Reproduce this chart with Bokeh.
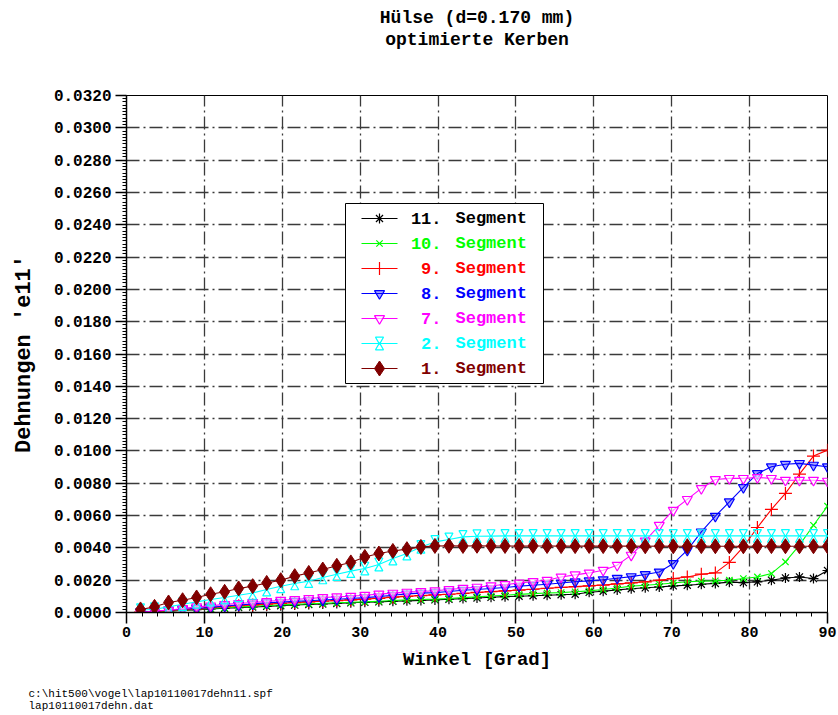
from bokeh.plotting import figure
from bokeh.models import Range1d, FixedTicker, NumeralTickFormatter, Title, ColumnDataSource
from bokeh.transform import dodge
from bokeh.core.properties import value
from bokeh.embed import file_html
from bokeh.resources import INLINE

# ---------------- data ----------------
winkel = [1.8, 3.6, 5.4, 7.2, 9.0, 10.8, 12.6, 14.4, 16.2, 18.0,
          19.8, 21.6, 23.4, 25.2, 27.0, 28.8, 30.6, 32.4, 34.2, 36.0,
          37.8, 39.6, 41.4, 43.2, 45.0, 46.8, 48.6, 50.4, 52.2, 54.0,
          55.8, 57.6, 59.4, 61.2, 63.0, 64.8, 66.6, 68.4, 70.2, 72.0,
          73.8, 75.6, 77.4, 79.2, 81.0, 82.8, 84.6, 86.4, 88.2, 90.0]

seg11 = [0.00000, 0.00003, 0.00008, 0.00013, 0.00018, 0.00022, 0.00026, 0.00030, 0.00034, 0.00038,
         0.00042, 0.00046, 0.00050, 0.00053, 0.00056, 0.00060, 0.00063, 0.00066, 0.00070, 0.00072,
         0.00075, 0.00078, 0.00082, 0.00086, 0.00090, 0.00094, 0.00098, 0.00101, 0.00104, 0.00107,
         0.00110, 0.00113, 0.00125, 0.00132, 0.00140, 0.00147, 0.00153, 0.00158, 0.00165, 0.00169,
         0.00175, 0.00180, 0.00188, 0.00185, 0.00190, 0.00200, 0.00214, 0.00220, 0.00210, 0.00260]

seg10 = [0.00003, 0.00004, 0.00010, 0.00015, 0.00020, 0.00025, 0.00029, 0.00034, 0.00038, 0.00043,
         0.00047, 0.00050, 0.00054, 0.00057, 0.00060, 0.00063, 0.00066, 0.00070, 0.00074, 0.00078,
         0.00080, 0.00083, 0.00087, 0.00092, 0.00097, 0.00102, 0.00107, 0.00112, 0.00117, 0.00121,
         0.00123, 0.00128, 0.00134, 0.00142, 0.00152, 0.00163, 0.00169, 0.00175, 0.00183, 0.00190,
         0.00194, 0.00196, 0.00200, 0.00210, 0.00220, 0.00241, 0.00313, 0.00417, 0.00540, 0.00658]

seg9 = [0.00002, 0.00006, 0.00012, 0.00018, 0.00023, 0.00030, 0.00036, 0.00042, 0.00047, 0.00052,
        0.00057, 0.00061, 0.00066, 0.00070, 0.00074, 0.00078, 0.00083, 0.00088, 0.00095, 0.00100,
        0.00105, 0.00109, 0.00113, 0.00118, 0.00124, 0.00129, 0.00134, 0.00139, 0.00144, 0.00150,
        0.00155, 0.00160, 0.00165, 0.00170, 0.00177, 0.00183, 0.00190, 0.00200, 0.00210, 0.00220,
        0.00237, 0.00245, 0.00310, 0.00406, 0.00526, 0.00638, 0.00737, 0.00856, 0.00968, 0.01005]

seg8 = [0.00005, 0.00008, 0.00015, 0.00020, 0.00025, 0.00032, 0.00040, 0.00046, 0.00053, 0.00060,
        0.00064, 0.00069, 0.00073, 0.00077, 0.00082, 0.00087, 0.00092, 0.00098, 0.00107, 0.00115,
        0.00120, 0.00123, 0.00130, 0.00138, 0.00142, 0.00149, 0.00155, 0.00163, 0.00169, 0.00175,
        0.00183, 0.00190, 0.00196, 0.00203, 0.00212, 0.00222, 0.00235, 0.00251, 0.00303, 0.00386,
        0.00499, 0.00596, 0.00685, 0.00774, 0.00860, 0.00902, 0.00918, 0.00923, 0.00912, 0.00902]

seg7 = [0.00000, 0.00010, 0.00014, 0.00025, 0.00035, 0.00041, 0.00050, 0.00056, 0.00062, 0.00068,
        0.00076, 0.00080, 0.00087, 0.00093, 0.00097, 0.00101, 0.00107, 0.00114, 0.00120, 0.00126,
        0.00130, 0.00135, 0.00142, 0.00150, 0.00157, 0.00166, 0.00173, 0.00182, 0.00192, 0.00200,
        0.00220, 0.00233, 0.00245, 0.00262, 0.00293, 0.00355, 0.00443, 0.00540, 0.00633, 0.00700,
        0.00768, 0.00823, 0.00830, 0.00830, 0.00836, 0.00830, 0.00819, 0.00819, 0.00819, 0.00813]

seg2 = [0.00014, 0.00020, 0.00035, 0.00051, 0.00066, 0.00080, 0.00093, 0.00107, 0.00121, 0.00142,
        0.00162, 0.00180, 0.00194, 0.00217, 0.00237, 0.00256, 0.00272, 0.00297, 0.00334, 0.00365,
        0.00406, 0.00437, 0.00452, 0.00468, 0.00472, 0.00473, 0.00474, 0.00474, 0.00474, 0.00474,
        0.00474, 0.00474, 0.00474, 0.00474, 0.00474, 0.00474, 0.00474, 0.00474, 0.00474, 0.00474,
        0.00473, 0.00474, 0.00474, 0.00474, 0.00474, 0.00474, 0.00474, 0.00474, 0.00474, 0.00474]

seg1 = [0.00019, 0.00035, 0.00062, 0.00076, 0.00093, 0.00113, 0.00128, 0.00149, 0.00163, 0.00183,
        0.00200, 0.00225, 0.00245, 0.00266, 0.00289, 0.00310, 0.00344, 0.00365, 0.00381, 0.00392,
        0.00406, 0.00412, 0.00413, 0.00412, 0.00413, 0.00412, 0.00412, 0.00411, 0.00412, 0.00412,
        0.00411, 0.00411, 0.00412, 0.00411, 0.00411, 0.00411, 0.00410, 0.00411, 0.00410, 0.00410,
        0.00411, 0.00410, 0.00410, 0.00410, 0.00410, 0.00411, 0.00410, 0.00410, 0.00410, 0.00410]

seg_numbers = ["11.", "10.", "9.", "8.", "7.", "2.", "1."]
seg_values = [seg11, seg10, seg9, seg8, seg7, seg2, seg1]
seg_colors = ["#000000", "#00ff00", "#ff0000", "#0000ff", "#ff00ff", "#00ffff", "#800000"]
seg_markers = ["asterisk", "x", "cross", "tri_filled", "tri_open", "hourglass", "diamond"]

x_major = [0, 10, 20, 30, 40, 50, 60, 70, 80, 90]
y_major = [0.000, 0.002, 0.004, 0.006, 0.008, 0.010, 0.012, 0.014, 0.016,
           0.018, 0.020, 0.022, 0.024, 0.026, 0.028, 0.030, 0.032]

title_lines = ["Hülse (d=0.170 mm)", "optimierte Kerben"]
x_label = "Winkel [Grad]"
y_label = "Dehnungen 'e11'"
footer_lines = ["c:\\hit500\\vogel\\lap10110017dehn11.spf", "lap10110017dehn.dat"]

# ---------------- layout ----------------
W, H = 838, 715
F_LEFT, F_RIGHT, F_TOP, F_BOTTOM = 126, 827, 95, 612
X_MAX, Y_MAX = 90.0, 0.032
PXX = (F_RIGHT - F_LEFT) / X_MAX
PXY = (F_BOTTOM - F_TOP) / Y_MAX


def xd(px):
    return (px - F_LEFT) / PXX


def yd(py):
    return (F_BOTTOM - py) / PXY


MONO = "Liberation Mono"

p = figure(width=W, height=H, output_backend="svg", toolbar_location=None, title=None,
           x_range=Range1d(0, X_MAX), y_range=Range1d(0, Y_MAX),
           min_border_left=F_LEFT, min_border_right=W - F_RIGHT,
           min_border_top=F_TOP, min_border_bottom=H - F_BOTTOM)
p.background_fill_color = "white"
p.border_fill_color = "white"
p.outline_line_color = "black"
p.outline_line_width = 1

# title: spacer + two single-line titles stacked above the frame (nearest first)
spacer_top = Title(text=" ", text_font=MONO, text_font_size="18px", standoff=24)
t2 = Title(text=title_lines[1], align="center", text_font=MONO, text_font_style="bold",
           text_font_size="18px", text_color="black", standoff=0)
t1 = Title(text=title_lines[0], align="center", text_font=MONO, text_font_style="bold",
           text_font_size="18px", text_color="black", standoff=0)
p.add_layout(spacer_top, "above")
p.add_layout(t2, "above")
p.add_layout(t1, "above")

# footer: spacer + two-line file note below the x axis
spacer_bot = Title(text=" ", text_font=MONO, text_font_size="9px", standoff=0)
foot = Title(text="\n".join(footer_lines), align="left", offset=28 - F_LEFT,
             text_font=MONO, text_font_style="normal", text_font_size="11px",
             text_color="black", standoff=0)
p.add_layout(spacer_bot, "below")
p.add_layout(foot, "below")

# axes
x_minor = [v * 2 for v in range(0, 46)]
y_minor = [v * 0.0002 for v in range(0, 161)]
p.xaxis.ticker = FixedTicker(ticks=x_major, minor_ticks=x_minor)
p.yaxis.ticker = FixedTicker(ticks=y_major, minor_ticks=y_minor)
p.yaxis.formatter = NumeralTickFormatter(format="0.0000")
for ax in (p.xaxis[0], p.yaxis[0]):
    ax.axis_line_color = "black"
    ax.axis_line_width = 1.5
    ax.major_tick_line_color = "black"
    ax.minor_tick_line_color = "black"
    ax.major_tick_line_width = 1.5
    ax.minor_tick_line_width = 1
    ax.major_tick_out = 11
    ax.major_tick_in = 0
    ax.minor_tick_out = 4
    ax.minor_tick_in = 0
    ax.major_label_text_font = MONO
    ax.major_label_text_font_style = "bold"
    ax.major_label_text_color = "black"
    ax.axis_label_text_font = MONO
    ax.axis_label_text_font_style = "bold"
    ax.axis_label_text_color = "black"

p.xaxis.major_label_text_font_size = "15px"
p.yaxis.major_label_text_font_size = "16px"
p.xaxis.major_label_standoff = 3
p.yaxis.major_label_standoff = 4
p.xaxis.axis_label = x_label
p.yaxis.axis_label = y_label
p.xaxis.axis_label_text_font_size = "19px"
p.yaxis.axis_label_text_font_size = "22px"
p.xaxis.axis_label_standoff = 9
p.yaxis.axis_label_standoff = 14

# grid
p.xgrid.ticker = FixedTicker(ticks=x_major)
p.ygrid.ticker = FixedTicker(ticks=y_major)
for g in (p.xgrid[0], p.ygrid[0]):
    g.grid_line_color = "#3a3a3a"
    g.grid_line_width = 1.3
    g.grid_line_dash = "13 4 2 4"

HG = 4.0 / PXY  # hourglass half offset in data units


def draw_marker(kind, src, xcol, ycol, color):
    if kind == "asterisk":
        p.scatter(xcol, ycol, source=src, marker="asterisk", size=10, line_color=color, line_width=1.2)
    elif kind == "x":
        p.scatter(xcol, ycol, source=src, marker="x", size=9, line_color=color, line_width=1.2)
    elif kind == "cross":
        p.scatter(xcol, ycol, source=src, marker="cross", size=13, line_color=color, line_width=1.2)
    elif kind == "tri_filled":
        p.scatter(xcol, ycol, source=src, marker="inverted_triangle", size=10, line_color=color,
                  line_width=1.2, fill_color=color, fill_alpha=0.35)
    elif kind == "tri_open":
        p.scatter(xcol, ycol, source=src, marker="inverted_triangle", size=10, line_color=color,
                  line_width=1.2, fill_color="white", fill_alpha=0.6)
    elif kind == "hourglass":
        p.scatter(xcol, dodge(ycol, HG), source=src, marker="inverted_triangle", size=8,
                  line_color=color, line_width=1.2, fill_color=None)
        p.scatter(xcol, dodge(ycol, -HG), source=src, marker="triangle", size=8,
                  line_color=color, line_width=1.2, fill_color=None)
    elif kind == "diamond":
        p.scatter(xcol, ycol, source=src, marker="diamond", size=15, line_color=color,
                  line_width=1, fill_color=color)


# series
for vals, col, mk in zip(seg_values, seg_colors, seg_markers):
    src = ColumnDataSource(dict(x=winkel, y=vals))
    p.line("x", "y", source=src, line_color=col, line_width=1.1)
    draw_marker(mk, src, "x", "y", col)

# legend (drawn manually so each label can have its own colour)
LG_L, LG_R, LG_T, LG_B = 345, 543, 203, 383
p.quad(left=xd(LG_L), right=xd(LG_R), top=yd(LG_T), bottom=yd(LG_B),
       fill_color="white", line_color="black", line_width=1)
row_y = [yd(218 + 25 * i) for i in range(len(seg_numbers))]
for i, (col, mk) in enumerate(zip(seg_colors, seg_markers)):
    lsrc = ColumnDataSource(dict(x=[xd(379)], y=[row_y[i]]))
    p.line(x=[xd(361), xd(397)], y=[row_y[i], row_y[i]], line_color=col, line_width=1.1)
    draw_marker(mk, lsrc, "x", "y", col)
tsrc = ColumnDataSource(dict(xn=[xd(441)] * len(seg_numbers), xs=[xd(455)] * len(seg_numbers),
                             y=row_y, num=seg_numbers, seg=["Segment"] * len(seg_numbers),
                             c=seg_colors))
p.text("xn", "y", text="num", source=tsrc, text_color="c", text_align="right",
       text_baseline="middle", text_font=value(MONO), text_font_style="bold",
       text_font_size=value("17px"))
p.text("xs", "y", text="seg", source=tsrc, text_color="c", text_align="left",
       text_baseline="middle", text_font=value(MONO), text_font_style="bold",
       text_font_size=value("17px"))

open("out.html", "w").write(file_html(p, INLINE))
